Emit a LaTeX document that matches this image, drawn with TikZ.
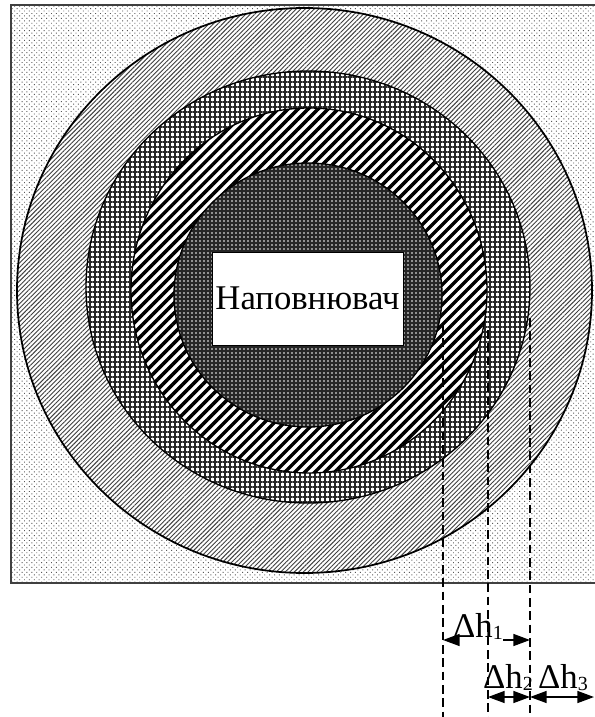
\documentclass[tikz,border=0pt]{standalone}
\usepackage{fontspec}
\setmainfont{Liberation Serif}
\usetikzlibrary{arrows.meta,patterns.meta}
\newcommand{\dsub}[1]{\raisebox{-2pt}{\fontsize{15}{15}\selectfont#1}}

\begin{document}
\begin{tikzpicture}[x=0.75pt,y=-0.75pt,
  ring/.style={draw=black, line width=1pt, preaction={fill=white}},
  guide/.style={dash pattern=on 6.5pt off 3.5pt, line width=1.1pt},
  dim/.style={<->, line width=1.1pt},
  lbl/.style={anchor=base, inner sep=0pt, font=\fontsize{26}{28}\selectfont},
  >={Triangle[length=12.5pt,width=9pt]}]
  \useasboundingbox (0,0) rectangle (595,717);
  \fill[white] (0,0) rectangle (595,717);
  % square and layers
  \draw[black!75, line width=1.2pt, preaction={fill=white},
    pattern={Dots[angle=45,distance=2.6pt,radius=0.5pt]}, pattern color=black!65]
    (11,5) rectangle (600,583);
  \draw[ring, line width=1.3pt, pattern={Lines[angle=45,distance=2.4pt,line width=0.7pt]},
    pattern color=black!75] (304.5,290.5) ellipse [x radius=287.5, y radius=282.5];
  \draw[ring, pattern={Hatch[angle=0,distance=3.75pt,line width=0.9pt]},
    pattern color=black!85] (308,287) ellipse [x radius=222, y radius=216];
  \draw[ring, pattern={Lines[angle=45,distance=5.3pt,line width=2.6pt]},
    pattern color=black] (309,290.5) ellipse [x radius=178, y radius=182.5];
  \draw[ring, preaction={fill=black!85}, pattern={Dots[distance=3pt,radius=0.6pt]},
    pattern color=white] (308,295) ellipse [x radius=134, y radius=132];
  \node[draw, fill=white, line width=0.6pt, inner sep=0pt, minimum width=143.25pt,
    minimum height=69.75pt, font=\fontsize{26}{28}\selectfont] (fill) at (307.5,298.5) {Наповнювач};
  % dimension lines
  \coordinate (g1) at (443,325); \coordinate (g1b) at (443,717);
  \coordinate (g2) at (488,330); \coordinate (g2b) at (488,717);
  \coordinate (g3) at (530,318); \coordinate (g3b) at (530,717);
  \draw[guide] (g1) -- (g1b);
  \draw[guide] (g2) -- (g2b);
  \draw[guide] (g3) -- (g3b);
  \coordinate (a1l) at (443,640); \coordinate (a1r) at (530,640);
  \coordinate (a2l) at (488,697); \coordinate (a2r) at (530,697);
  \coordinate (a3r) at (594,697);
  \node[lbl] (dh1) at (478,637) {Δh\dsub{1}};
  \draw[->, line width=1.1pt] (dh1.west |- a1l) -- (a1l);
  \draw[->, line width=1.1pt] (dh1.east |- a1r) -- (a1r);
  \draw[dim] (a2l) -- (a2r);
  \draw[dim] (a2r) -- (a3r);
  \node[lbl] (dh2) at (508,688) {Δh\dsub{2}};
  \node[lbl] (dh3) at (563,688) {Δh\dsub{3}};
\end{tikzpicture}
\end{document}
